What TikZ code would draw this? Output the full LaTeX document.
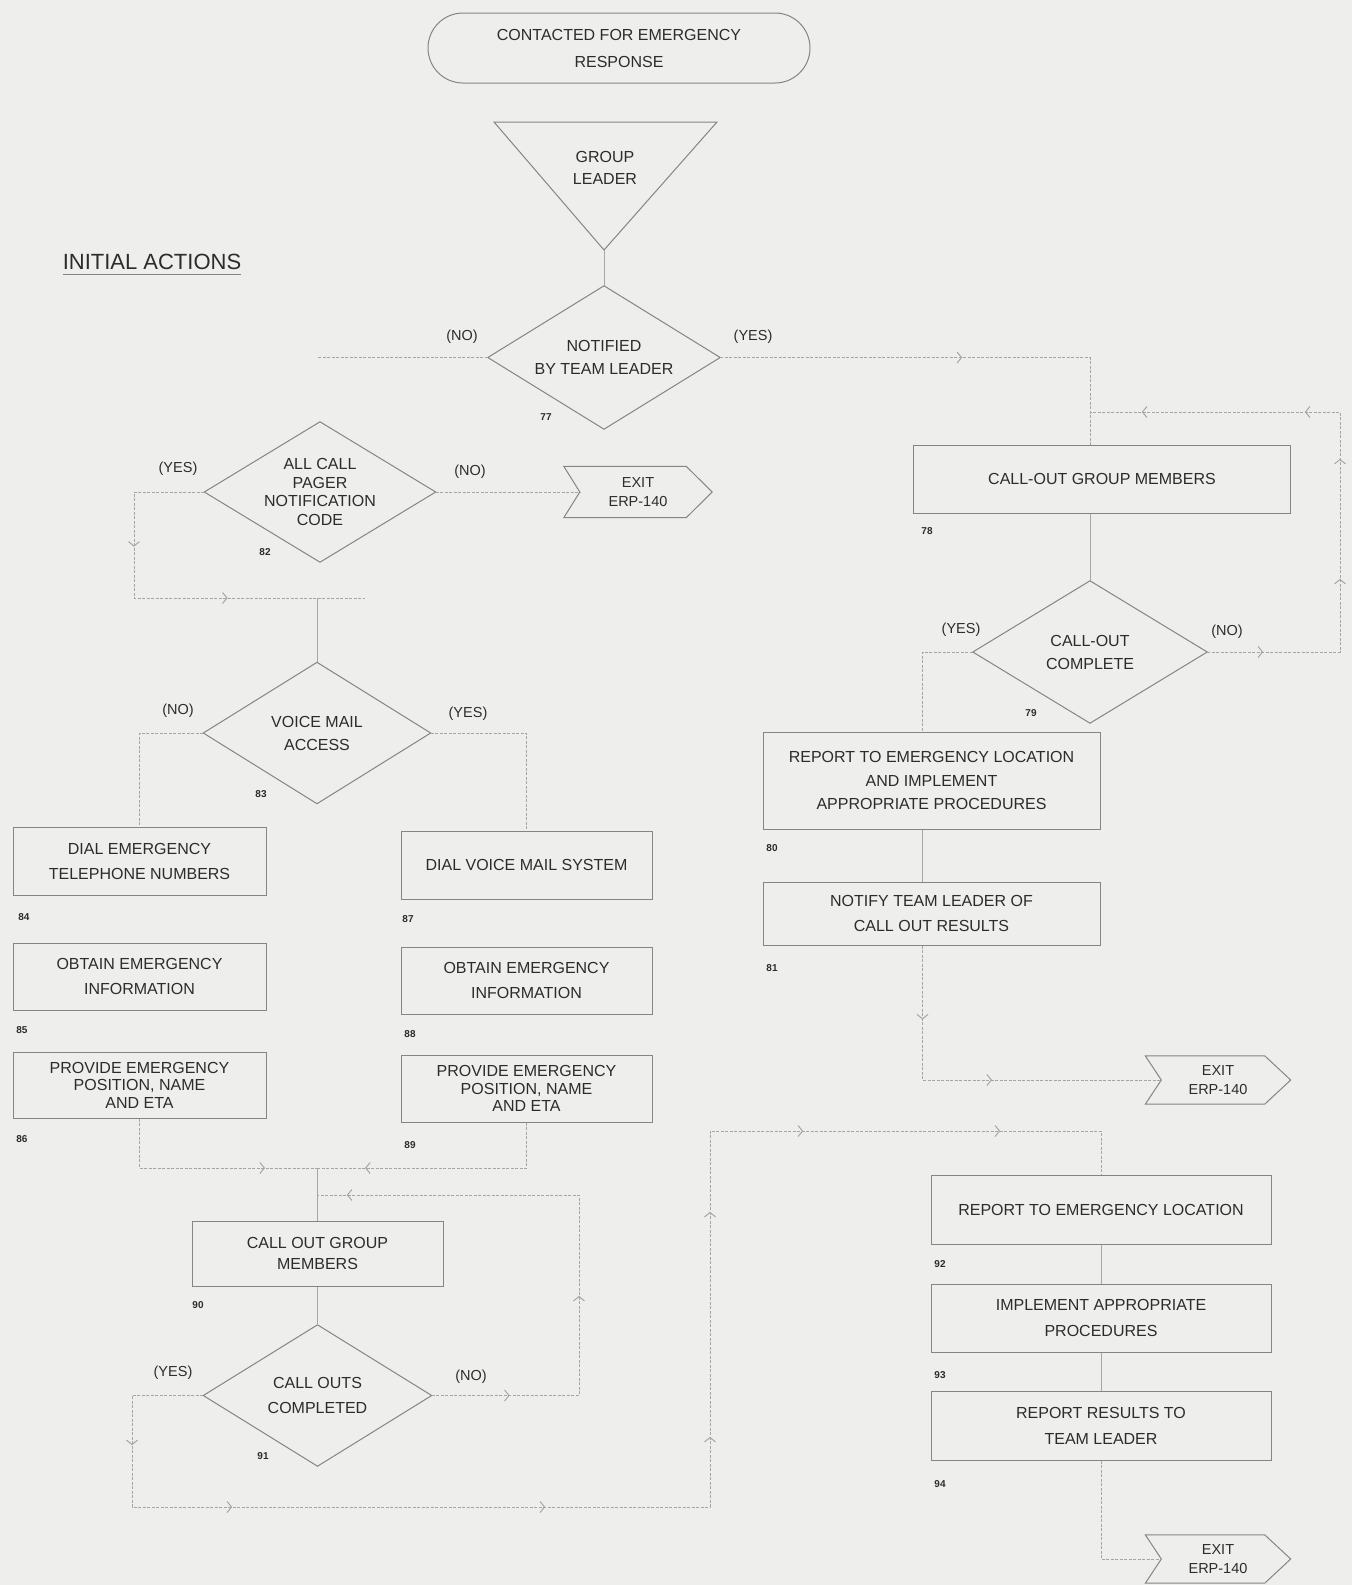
\documentclass[tikz,border=0pt]{standalone}
\usepackage{fontspec}
\setmainfont{Liberation Sans}
\usetikzlibrary{arrows.meta,decorations.markings,calc}

\definecolor{paper}{HTML}{EEEEEC}
\definecolor{ink}{HTML}{2C2C2C}
\definecolor{edge}{HTML}{858585}
\definecolor{flowc}{HTML}{A6A6A4}

\newcommand{\lead}[1]{\fontsize{16}{#1}\selectfont}

\tikzset{
  flowtip/.tip={Straight Barb[length=4.5pt,width=11pt,line width=1pt]},
  boxtext/.style={text=ink, font=\lead{25}, align=center},
  stepbox/.style={boxtext, draw=edge, line width=1pt, rectangle, inner sep=0pt},
  decision/.style={boxtext, rectangle, inner sep=0pt},
  terminal/.style={boxtext, draw=edge, line width=1pt, rectangle, rounded corners=35pt, inner sep=0pt},
  exitbox/.style={text=ink, font=\fontsize{14.5}{19}\selectfont, align=center, rectangle, inner sep=0pt},
  outline/.style={draw=edge, line width=1pt, line join=miter},
  seqno/.style={text=ink, font=\fontsize{10}{11}\selectfont\bfseries},
  answer/.style={text=ink, font=\fontsize{14.5}{16}\selectfont},
  flowline/.style={draw=flowc, line width=0.9pt, dash pattern=on 3pt off 1.5pt},
  link/.style={draw=flowc, line width=0.8pt},
  tip at/.style={postaction={decorate, decoration={markings,
      mark=at position #1 with {\arrow[flowc]{flowtip}}}}},
}

% outlines drawn through a node's anchors
\newcommand{\decisionshape}[1]{\draw[outline] (#1.north) -- (#1.east) -- (#1.south) -- (#1.west) -- cycle;}
\newcommand{\exitshape}[1]{\draw[outline] (#1.north west) -- ($(#1.north east)+(-26,0)$) -- (#1.east)
  -- ($(#1.south east)+(-26,0)$) -- (#1.south west) -- ($(#1.west)+(16,0)$) -- cycle;}

\begin{document}
\begin{tikzpicture}[x=1pt,y=-1pt]
\fill[paper] (0,0) rectangle (1352,1585);
\useasboundingbox (0,0) rectangle (1352,1585);

% ---------- top of the chart ----------
\node[terminal, minimum width=382, minimum height=70, font=\lead{27}] (start) at (619,48)
  {CONTACTED FOR EMERGENCY\\RESPONSE};

\coordinate (glleft) at (494,122);
\coordinate (glright) at (717,122);
\coordinate (glapex) at (604,250);
\draw[outline] (glleft) -- (glright) -- (glapex) -- cycle;
\node[boxtext, font=\lead{22}] (gl) at (605,168) {GROUP\\LEADER};

\node[text=ink, font=\fontsize{22}{24}\selectfont, inner sep=0pt] (title) at (152,262) {INITIAL ACTIONS};
\draw[draw=edge, line width=1pt] ($(title.base west)+(0,5)$) -- ($(title.base east)+(0,5)$);

\node[decision, minimum width=232, minimum height=143, font=\lead{23}] (d1) at (604,357.5)
  {NOTIFIED\\BY TEAM LEADER};
\decisionshape{d1}
\node[seqno] (n77) at (546,417) {77};
\node[answer] (d1no) at (462,337) {(NO)};
\node[answer] (d1yes) at (753,337) {(YES)};
\coordinate (nTail) at (317,357.5);

% ---------- left branch ----------
\node[decision, minimum width=231, minimum height=140, font=\lead{18.5}] (d2) at (320,492)
  {ALL CALL\\PAGER\\NOTIFICATION\\CODE};
\decisionshape{d2}
\node[seqno] (n82) at (265,552) {82};
\node[answer] (d2yes) at (178,469) {(YES)};
\node[answer] (d2no) at (470,472) {(NO)};

\node[exitbox, minimum width=148, minimum height=51] (exit1) at (638,492) {EXIT\\ERP-140};
\exitshape{exit1}

\coordinate (yA) at (134,598);
\coordinate (yB) at (365,598);

\node[decision, minimum width=227, minimum height=141, font=\lead{23}] (d3) at (317,733)
  {VOICE MAIL\\ACCESS};
\decisionshape{d3}
\node[seqno] (n83) at (261,794) {83};
\node[answer] (d3no) at (178,711) {(NO)};
\node[answer] (d3yes) at (468,714) {(YES)};

\node[stepbox, minimum width=253, minimum height=68] (b84) at (139.5,861) {DIAL EMERGENCY\\TELEPHONE NUMBERS};
\node[seqno] (n84) at (24,917) {84};
\node[stepbox, minimum width=253, minimum height=67] (b85) at (139.5,976.5) {OBTAIN EMERGENCY\\INFORMATION};
\node[seqno] (n85) at (22,1030) {85};
\node[stepbox, minimum width=253, minimum height=66, font=\lead{17.5}] (b86) at (139.5,1085)
  {PROVIDE EMERGENCY\\POSITION, NAME\\AND ETA};
\node[seqno] (n86) at (22,1139) {86};

\node[stepbox, minimum width=251, minimum height=68] (b87) at (526.5,865) {DIAL VOICE MAIL SYSTEM};
\node[seqno] (n87) at (408,919) {87};
\node[stepbox, minimum width=251, minimum height=67] (b88) at (526.5,980.5) {OBTAIN EMERGENCY\\INFORMATION};
\node[seqno] (n88) at (410,1034) {88};
\node[stepbox, minimum width=251, minimum height=67, font=\lead{17.5}] (b89) at (526.5,1088.5)
  {PROVIDE EMERGENCY\\POSITION, NAME\\AND ETA};
\node[seqno] (n89) at (410,1145) {89};

\coordinate (jL) at (317.5,1168);

\node[stepbox, minimum width=251, minimum height=65, font=\lead{21}] (b90) at (317.5,1253.5)
  {CALL OUT GROUP\\MEMBERS};
\node[seqno] (n90) at (198,1305) {90};

\node[decision, minimum width=228, minimum height=141, font=\lead{25}] (d6) at (317.5,1395.5)
  {CALL OUTS\\COMPLETED};
\decisionshape{d6}
\node[seqno] (n91) at (263,1456) {91};
\node[answer] (d6yes) at (173,1373) {(YES)};
\node[answer] (d6no) at (471,1377) {(NO)};

\coordinate (loopL) at (579,1195);
\coordinate (yC) at (132,1507);
\coordinate (yD) at (710,1507);
\coordinate (yE) at (710,1131);

% ---------- right branch ----------
\node[stepbox, minimum width=377, minimum height=68] (b78) at (1102,479) {CALL-OUT GROUP MEMBERS};
\node[seqno] (n78) at (927,531) {78};

\node[decision, minimum width=234, minimum height=142, font=\lead{23}] (d5) at (1090,652)
  {CALL-OUT\\COMPLETE};
\decisionshape{d5}
\node[seqno] (n79) at (1031,713) {79};
\node[answer] (d5yes) at (961,630) {(YES)};
\node[answer] (d5no) at (1227,632) {(NO)};
\coordinate (loopR) at (1340,412);

\node[stepbox, minimum width=337, minimum height=97, font=\lead{23.5}] (b80) at (931.5,780.5)
  {REPORT TO EMERGENCY LOCATION\\AND IMPLEMENT\\APPROPRIATE PROCEDURES};
\node[seqno] (n80) at (772,848) {80};
\node[stepbox, minimum width=337, minimum height=63] (b81) at (931.5,913.5)
  {NOTIFY TEAM LEADER OF\\CALL OUT RESULTS};
\node[seqno] (n81) at (772,968) {81};

\node[exitbox, minimum width=145, minimum height=48] (exit2) at (1218,1080) {EXIT\\ERP-140};
\exitshape{exit2}

\node[stepbox, minimum width=340, minimum height=69] (b92) at (1101,1209.5) {REPORT TO EMERGENCY LOCATION};
\node[seqno] (n92) at (940,1264) {92};
\node[stepbox, minimum width=340, minimum height=68, font=\lead{26}] (b93) at (1101,1318)
  {IMPLEMENT APPROPRIATE\\PROCEDURES};
\node[seqno] (n93) at (940,1375) {93};
\node[stepbox, minimum width=340, minimum height=69, font=\lead{26}] (b94) at (1101,1425.5)
  {REPORT RESULTS TO\\TEAM LEADER};
\node[seqno] (n94) at (940,1484) {94};

\node[exitbox, minimum width=145, minimum height=48] (exit3) at (1218,1559) {EXIT\\ERP-140};
\exitshape{exit3}

% ---------- connectors ----------
\draw[link] (glapex) -- (d1.north);
\draw[flowline, tip at=242pt] (d1.east) -| (d5.north |- b78.north);
\draw[flowline] (d1.west) -- (nTail);
\draw[link] (b78.south -| d5.north) -- (d5.north);
\draw[flowline, tip at=56pt, tip at=206pt, tip at=326pt, tip at=408pt, tip at=571pt]
  (d5.east) -| (loopR) -- (d5.north |- loopR);
\draw[flowline] (d5.west) -| ($(b80.north)+(-9,0)$);
\draw[link] ($(b80.south)+(-9,0)$) -- ($(b81.north)+(-9,0)$);
\draw[flowline, tip at=74pt, tip at=204pt] ($(b81.south)+(-9,0)$) |- ($(exit2.west)+(16,0)$);

\draw[flowline] (d2.east) -- ($(exit1.west)+(16,0)$);
\draw[flowline, tip at=125pt, tip at=270pt] (d2.west) -| (yA) -- (yB);
\draw[link] (d3.north |- yA) -- (d3.north);
\draw[flowline] (d3.west) -| (b84.north);
\draw[flowline] (d3.east) -| (b87.north);
\draw[flowline, tip at=175pt] (b86.south) |- (jL);
\draw[flowline, tip at=207pt] (b89.south) |- (jL);
\draw[link] (jL) -- (b90.north);
\draw[link] (b90.south) -- (d6.north);
\draw[flowline, tip at=78pt, tip at=247pt, tip at=580pt] (d6.east) -| (loopL) -- (b90.north |- loopL);
\draw[flowline, tip at=121pt, tip at=283pt, tip at=596pt, tip at=831pt, tip at=1056pt,
      tip at=1230pt, tip at=1427pt]
  (d6.west) -| (yC) -- (yD) -- (yE) -| (b92.north);
\draw[link] (b92.south) -- (b93.north);
\draw[link] (b93.south) -- (b94.north);
\draw[flowline] (b94.south) |- ($(exit3.west)+(16,0)$);
\end{tikzpicture}
\end{document}
